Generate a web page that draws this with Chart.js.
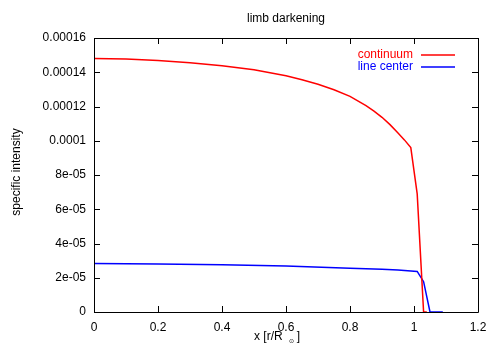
<!DOCTYPE html>
<html>
<head>
<meta charset="utf-8">
<script src="https://cdn.jsdelivr.net/npm/chart.js@4"></script>
<style>
  body { margin: 0; background: #fff; }
  #wrap { width: 500px; height: 350px; }
</style>
</head>
<body>
<div id="wrap"><canvas id="chart" width="500" height="350"></canvas></div>
<script>
// datos
var contX = [0, 0.1, 0.2, 0.3, 0.4, 0.5, 0.6, 0.65, 0.7, 0.75, 0.8, 0.85, 0.875, 0.9, 0.925, 0.95, 0.97, 0.99, 1.01, 1.03, 1.04];
var contY = [1.481e-4, 1.477e-4, 1.468e-4, 1.455e-4, 1.438e-4, 1.414e-4, 1.379e-4, 1.356e-4, 1.330e-4, 1.298e-4, 1.259e-4, 1.205e-4, 1.173e-4, 1.137e-4, 1.094e-4, 1.045e-4, 1.005e-4, 0.96e-4, 0.69e-4, 0, 0];

var lineX = [0, 0.2, 0.4, 0.6, 0.8, 0.9, 0.95, 1.01, 1.03, 1.05, 1.09];
var lineY = [2.83e-5, 2.81e-5, 2.76e-5, 2.68e-5, 2.56e-5, 2.49e-5, 2.45e-5, 2.37e-5, 1.77e-5, 0, 0];

var xTicks = [0, 0.2, 0.4, 0.6, 0.8, 1, 1.2];
var xTickLabels = ["0", "0.2", "0.4", "0.6", "0.8", "1", "1.2"];
var yTicks = [0, 2e-5, 4e-5, 6e-5, 8e-5, 1e-4, 1.2e-4, 1.4e-4, 1.6e-4];
var yTickLabels = ["0", "2e-05", "4e-05", "6e-05", "8e-05", "0.0001", "0.00012", "0.00014", "0.00016"];

var seriesNames = ["continuum", "line center"];
var seriesColors = ["#ff0000", "#0000ff"];

var FONT = "Liberation Sans, Arial, Helvetica, sans-serif";

function pts(xs, ys) {
    var out = [];
    for (var i = 0; i < xs.length; i++) out.push({x: xs[i], y: ys[i]});
    return out;
}

// marco, ticks hacia adentro, titulos y leyenda estilo gnuplot
var gnuplotStyle = {
    id: 'gnuplotStyle',
    afterDraw: function(chart) {
        var ctx = chart.ctx;
        var a = chart.chartArea;
        var xs = chart.scales.x, ys = chart.scales.y;
        ctx.save();
        ctx.strokeStyle = '#000';
        ctx.lineWidth = 1;
        ctx.beginPath();
        ctx.rect(Math.round(a.left) + 0.5, Math.round(a.top) + 0.5, Math.round(a.right - a.left), Math.round(a.bottom - a.top));
        ctx.stroke();

        var tl = 6;
        ctx.beginPath();
        xTicks.forEach(function(v) {
            var px = Math.round(xs.getPixelForValue(v)) + 0.5;
            ctx.moveTo(px, a.bottom); ctx.lineTo(px, a.bottom - tl);
            ctx.moveTo(px, a.top); ctx.lineTo(px, a.top + tl);
        });
        yTicks.forEach(function(v) {
            var py = Math.round(ys.getPixelForValue(v)) + 0.5;
            ctx.moveTo(a.left, py); ctx.lineTo(a.left + tl, py);
            ctx.moveTo(a.right, py); ctx.lineTo(a.right - tl, py);
        });
        ctx.stroke();

        // titulo
        ctx.fillStyle = '#000';
        ctx.font = '12px ' + FONT;
        ctx.textAlign = 'center';
        ctx.textBaseline = 'middle';
        ctx.fillText('limb darkening', 286, 19);

        // titulo eje y
        ctx.save();
        ctx.translate(17, 172);
        ctx.rotate(-Math.PI / 2);
        ctx.fillText('specific intensity', 0, 0);
        ctx.restore();

        // titulo eje x con subindice
        ctx.textAlign = 'left';
        var t1 = 'x [r/R';
        var w1 = ctx.measureText(t1).width;
        var x0 = 254;
        ctx.fillText(t1, x0, 337);
        ctx.font = '6px ' + FONT;
        ctx.fillText('\u2299', x0 + w1 + 6, 341);
        ctx.font = '12px ' + FONT;
        ctx.fillText(']', x0 + w1 + 14, 337);

        // leyenda
        var ly = [55, 67];
        for (var i = 0; i < seriesNames.length; i++) {
            ctx.fillStyle = seriesColors[i];
            ctx.strokeStyle = seriesColors[i];
            ctx.textAlign = 'right';
            ctx.fillText(seriesNames[i], 413, ly[i]);
            ctx.lineWidth = 1.5;
            ctx.beginPath();
            ctx.moveTo(421, ly[i]);
            ctx.lineTo(455, ly[i]);
            ctx.stroke();
        }
        ctx.restore();
    }
};

new Chart(document.getElementById('chart'), {
    type: 'line',
    data: {
        datasets: [{
            label: seriesNames[0],
            data: pts(contX, contY),
            borderColor: seriesColors[0],
            borderWidth: 1.5,
            pointRadius: 0,
            tension: 0
        }, {
            label: seriesNames[1],
            data: pts(lineX, lineY),
            borderColor: seriesColors[1],
            borderWidth: 1.5,
            pointRadius: 0,
            tension: 0
        }]
    },
    options: {
        responsive: false,
        animation: false,
        layout: { padding: { top: 38, right: 22, left: 0, bottom: 0 } },
        plugins: { legend: { display: false }, title: { display: false }, tooltip: { enabled: false } },
        scales: {
            x: {
                type: 'linear',
                min: 0, max: 1.2,
                afterBuildTicks: function(s) { s.ticks = xTicks.map(function(v) { return {value: v}; }); },
                afterFit: function(s) { s.height = 38; },
                grid: { display: false, drawTicks: false },
                border: { display: false },
                ticks: {
                    padding: 8,
                    color: '#000',
                    font: { family: FONT, size: 12 },
                    maxRotation: 0,
                    callback: function(v, i) { return xTickLabels[i]; }
                }
            },
            y: {
                type: 'linear',
                min: 0, max: 1.6e-4,
                afterBuildTicks: function(s) { s.ticks = yTicks.map(function(v) { return {value: v}; }); },
                afterFit: function(s) { s.width = 94; },
                grid: { display: false, drawTicks: false },
                border: { display: false },
                ticks: {
                    padding: 8,
                    color: '#000',
                    font: { family: FONT, size: 12 },
                    callback: function(v, i) { return yTickLabels[i]; }
                }
            }
        }
    },
    plugins: [gnuplotStyle]
});
</script>
</body>
</html>
